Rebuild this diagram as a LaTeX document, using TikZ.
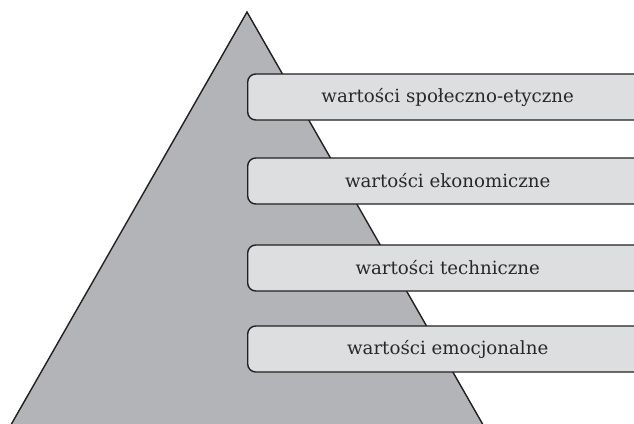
\documentclass[tikz,border=0pt]{standalone}
\usepackage{fontspec}
\setmainfont{DejaVu Serif}
\usetikzlibrary{positioning}
\definecolor{pyrgray}{RGB}{179,180,183}
\definecolor{boxgray}{RGB}{221,222,224}
\definecolor{txtgray}{RGB}{40,40,40}
\definecolor{edgeblack}{RGB}{35,31,32}

\begin{document}
\begin{tikzpicture}[x=1pt, y=-1pt,
  level/.style={draw=edgeblack, line width=1.4pt, fill=boxgray, rounded corners=8pt,
    minimum width=400pt, minimum height=46pt, inner sep=0pt, anchor=west,
    text=txtgray, font=\fontsize{18.2}{21}\selectfont}]
\useasboundingbox (0,0) rectangle (634,423);
\clip (0,0) rectangle (634,423);
\filldraw[draw=edgeblack, line width=1.4pt, fill=pyrgray] (247,12) -- (494,444) -- (0,444) -- cycle;
\node [level] (etyczne) at (247,97) {wartości społeczno-etyczne};
\node [level] (ekonom) at (247,181) {wartości ekonomiczne};
\node [level] (techn) at (247,268) {wartości techniczne};
\node [level] (emocj) at (247,349) {wartości emocjonalne};
\end{tikzpicture}
\end{document}
